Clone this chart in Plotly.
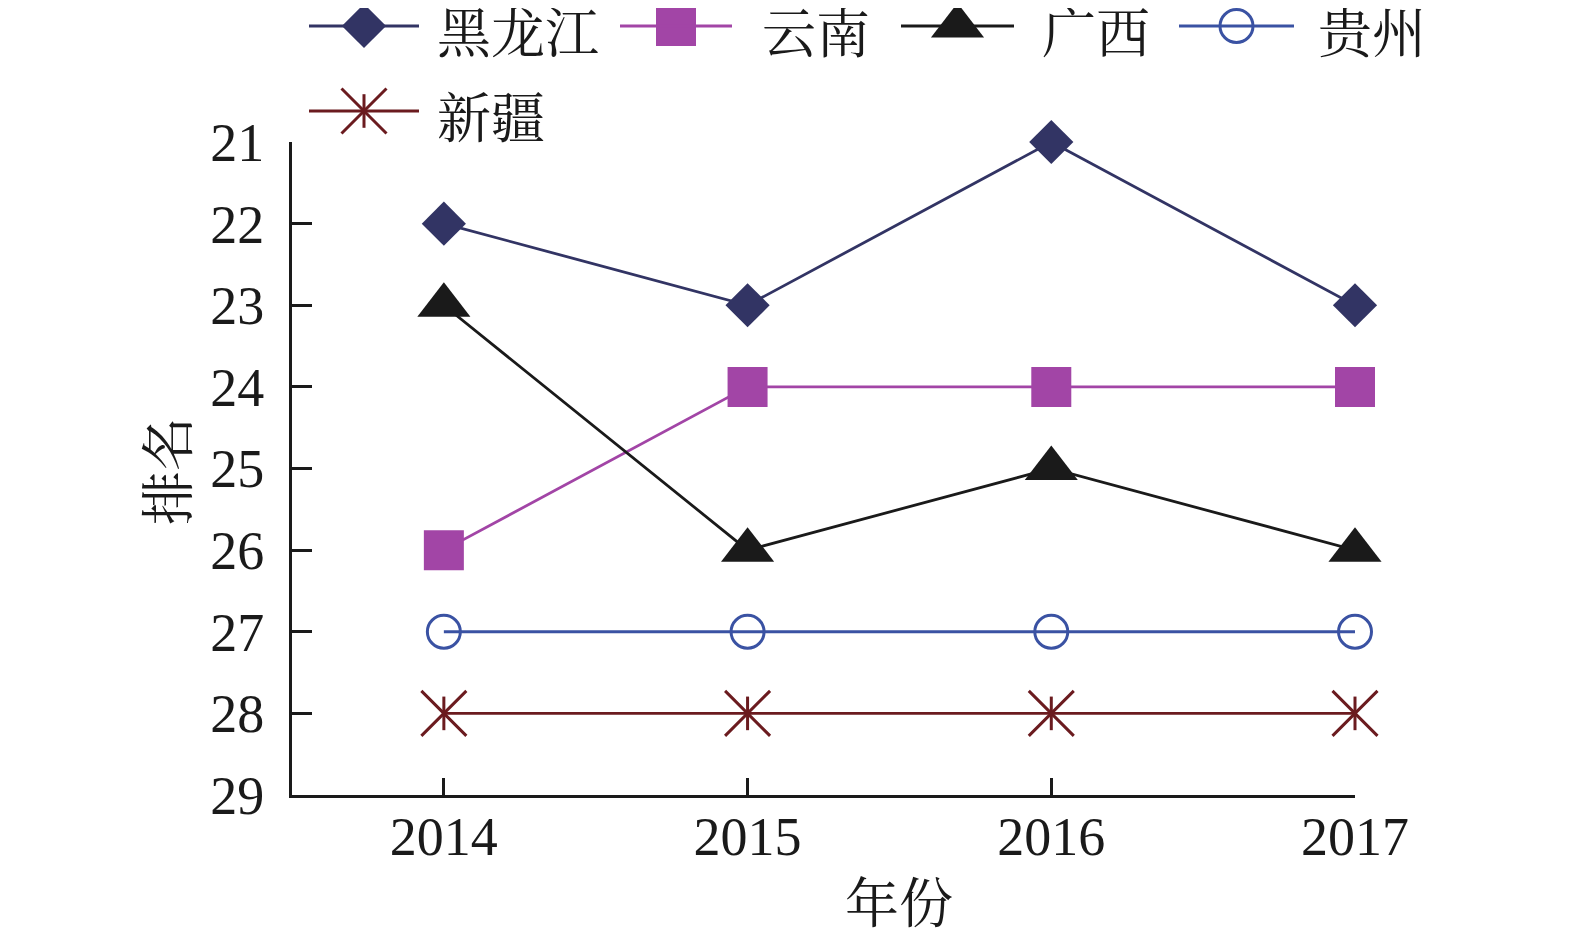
import plotly.graph_objects as go

years = [2014, 2015, 2016, 2017]
heilongjiang = [22, 23, 21, 23]
yunnan = [26, 24, 24, 24]
guangxi = [23, 26, 25, 26]
guizhou = [27, 27, 27, 27]
xinjiang = [28, 28, 28, 28]
y_ticks = [21, 22, 23, 24, 25, 26, 27, 28, 29]
names = ["黑龙江", "云南", "广西", "贵州", "新疆"]

W, H = 1575, 944
OX, OY = 6, 7  # page offset compensation
FONT = "Liberation Serif, Noto Serif CJK SC, Noto Sans CJK SC, serif"

C_HLJ = "#323464"
C_YN = "#a245a6"
C_GX = "#1a1a1a"
C_GZ = "#3a52a3"
C_XJ = "#6b1b1f"

styles = [
    dict(color=C_HLJ, symbol="diamond", size=34, fill=C_HLJ, lw=0),
    dict(color=C_YN, symbol="square", size=40, fill=C_YN, lw=0),
    dict(color=C_GX, symbol="triangle-up", size=46, fill=C_GX, lw=0),
    dict(color=C_GZ, symbol="circle-open", size=33, fill=C_GZ, lw=3),
    dict(color=C_XJ, symbol="x-thin-open", size=45, fill=C_XJ, lw=3),
]
series = [heilongjiang, yunnan, guangxi, guizhou, xinjiang]

fig = go.Figure()

for s, st, nm in zip(series, styles, names):
    fig.add_trace(go.Scatter(
        x=years, y=s, mode="lines+markers", name=nm,
        line=dict(color=st["color"], width=2.8),
        marker=dict(symbol=st["symbol"], size=st["size"], color=st["fill"],
                    line=dict(color=st["color"], width=st["lw"])),
        cliponaxis=False, showlegend=False,
    ))
# vertical stroke of the asterisk for 新疆
fig.add_trace(go.Scatter(
    x=years, y=xinjiang, mode="markers",
    marker=dict(symbol="line-ns-open", size=24, color=C_XJ, line=dict(color=C_XJ, width=3)),
    cliponaxis=False, showlegend=False,
))

# manual legend on a pixel overlay axis
leg_rows = [25, 25, 25, 25, 110]
leg_line = [(307, 417), (618, 730), (899, 1012), (1177, 1292), (307, 417)]
leg_text_x = [433, 758, 1038, 1314, 433]
for i, (nm, st) in enumerate(zip(names, styles)):
    x0, x1 = leg_line[i]
    yy = leg_rows[i]
    fig.add_shape(type="line", xref="x2", yref="y2", x0=x0, x1=x1, y0=yy, y1=yy,
                  line=dict(color=st["color"], width=2.8))
    fig.add_trace(go.Scatter(
        x=[(x0 + x1) / 2], y=[yy], xaxis="x2", yaxis="y2", mode="markers",
        marker=dict(symbol=st["symbol"], size=st["size"], color=st["fill"],
                    line=dict(color=st["color"], width=st["lw"])),
        cliponaxis=False, showlegend=False, hoverinfo="skip",
    ))
    if i == 4:
        fig.add_trace(go.Scatter(
            x=[(x0 + x1) / 2], y=[yy], xaxis="x2", yaxis="y2", mode="markers",
            marker=dict(symbol="line-ns-open", size=24, color=C_XJ, line=dict(color=C_XJ, width=3)),
            cliponaxis=False, showlegend=False, hoverinfo="skip",
        ))
    fig.add_annotation(xref="x2", yref="y2", x=leg_text_x[i], y=yy + 9, text=nm,
                       showarrow=False, xanchor="left", yanchor="middle",
                       font=dict(family=FONT, size=54, color="#1a1a1a"))

fig.add_annotation(xref="x2", yref="y2", x=897, y=904, text="年份", showarrow=False,
                   xanchor="center", yanchor="middle",
                   font=dict(family=FONT, size=54, color="#1a1a1a"))
fig.add_annotation(xref="x2", yref="y2", x=168, y=470, text="排名", showarrow=False,
                   textangle=-90, xanchor="center", yanchor="middle",
                   font=dict(family=FONT, size=54, color="#1a1a1a"))

fig.update_layout(
    width=W, height=H,
    margin=dict(l=0, r=0, t=0, b=0, pad=0, autoexpand=False),
    paper_bgcolor="white", plot_bgcolor="rgba(0,0,0,0)",
    showlegend=False,
    font=dict(family=FONT, size=54, color="#1a1a1a"),
    xaxis=dict(
        domain=[(290 - OX) / W, (1353 - OX) / W], range=[2013.5, 2017],
        tickmode="array", tickvals=years, ticktext=[str(y) for y in years],
        ticks="inside", ticklen=17, tickwidth=3, tickcolor="#1a1a1a",
        showline=True, linewidth=3, linecolor="#1a1a1a",
        showgrid=False, zeroline=False, ticklabelstandoff=-8,
        tickfont=dict(family=FONT, size=54, color="#1a1a1a"),
        anchor="y", automargin=False,
    ),
    yaxis=dict(
        domain=[1 - (794 - OY) / H, 1 - (141 - OY) / H], range=[29, 21],
        tickmode="array", tickvals=y_ticks, ticktext=[str(v) for v in y_ticks],
        ticks="inside", ticklen=20, tickwidth=3, tickcolor="#1a1a1a",
        showline=True, linewidth=3, linecolor="#1a1a1a",
        showgrid=False, zeroline=False, ticklabelstandoff=14,
        tickfont=dict(family=FONT, size=54, color="#1a1a1a"),
        anchor="x", automargin=False,
    ),
    xaxis2=dict(domain=[0, 1], range=[OX, W + OX], visible=False, anchor="y2",
                fixedrange=True, automargin=False),
    yaxis2=dict(domain=[0, 1], range=[H + OY, OY], visible=False, anchor="x2",
                fixedrange=True, automargin=False),
)

fig.write_html("out.html")
